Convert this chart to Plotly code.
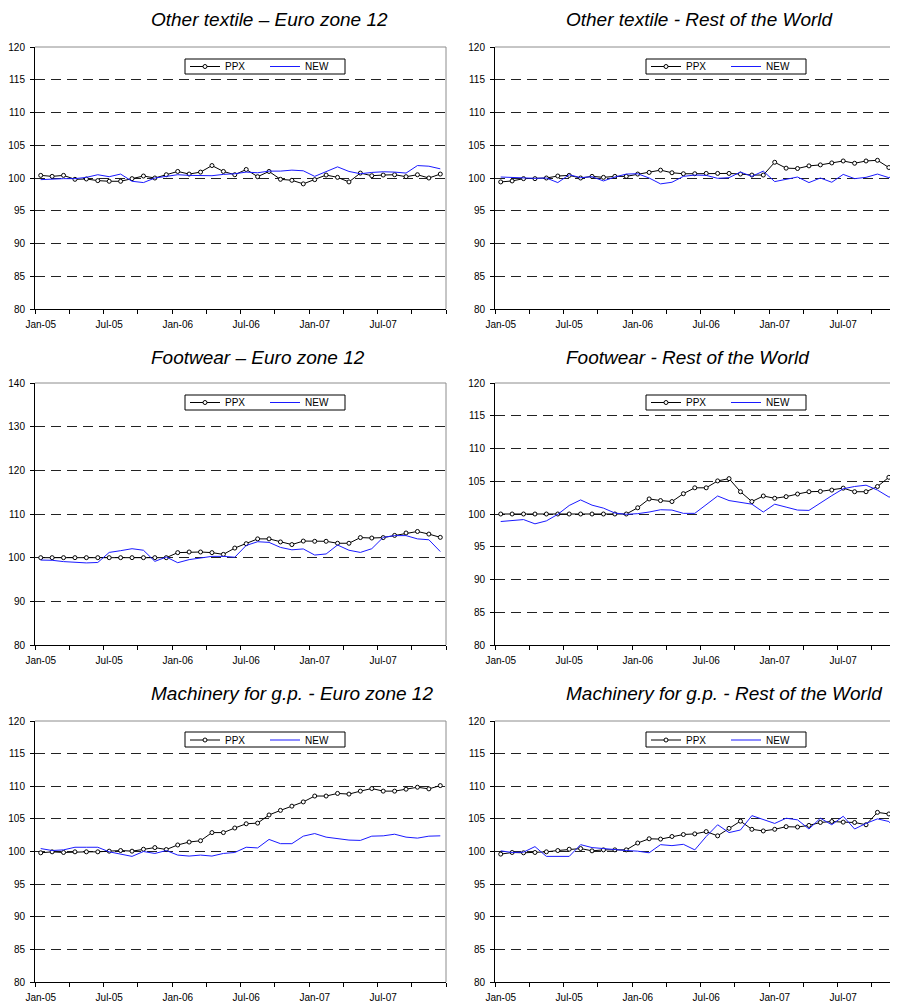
import plotly.graph_objects as go

# ---------------- data ----------------
months = ["Jan-05", "Feb-05", "Mar-05", "Apr-05", "May-05", "Jun-05",
          "Jul-05", "Aug-05", "Sep-05", "Oct-05", "Nov-05", "Dec-05",
          "Jan-06", "Feb-06", "Mar-06", "Apr-06", "May-06", "Jun-06",
          "Jul-06", "Aug-06", "Sep-06", "Oct-06", "Nov-06", "Dec-06",
          "Jan-07", "Feb-07", "Mar-07", "Apr-07", "May-07", "Jun-07",
          "Jul-07", "Aug-07", "Sep-07", "Oct-07", "Nov-07", "Dec-07"]
tick_labels = ["Jan-05", "Jul-05", "Jan-06", "Jul-06", "Jan-07", "Jul-07"]
series_names = ["PPX", "NEW"]

titles = ["Other textile \u2013 Euro zone 12", "Other textile - Rest of the World",
          "Footwear \u2013 Euro zone 12", "Footwear - Rest of the World",
          "Machinery for g.p. - Euro zone 12", "Machinery for g.p. - Rest of the World"]

textile_ez_ppx = [100.4, 100.25, 100.4, 99.8, 99.85, 99.6, 99.5, 99.5, 99.9, 100.3, 100.0, 100.5,
                  101.0, 100.6, 100.9, 101.9, 101.0, 100.5, 101.3, 100.2, 101.0, 99.8, 99.65, 99.1,
                  99.75, 100.45, 100.1, 99.4, 100.75, 100.35, 100.45, 100.5, 100.2, 100.5, 100.0, 100.6]
textile_ez_new = [99.75, 99.85, 99.9, 99.9, 100.1, 100.5, 100.2, 100.6, 99.5, 99.3, 100.0, 100.25,
                  100.5, 100.4, 100.35, 100.35, 100.55, 100.65, 100.9, 100.8, 101.05, 101.05, 101.2, 101.1,
                  100.25, 101.0, 101.7, 101.0, 100.65, 100.85, 100.95, 100.9, 100.75, 101.9, 101.8, 101.4]

textile_row_ppx = [99.4, 99.55, 99.9, 99.9, 100.0, 100.3, 100.4, 100.0, 100.25, 100.1, 100.25, 100.25,
                   100.6, 100.85, 101.2, 100.8, 100.65, 100.65, 100.7, 100.7, 100.7, 100.6, 100.45, 100.45,
                   102.4, 101.5, 101.45, 101.85, 102.0, 102.3, 102.6, 102.25, 102.6, 102.7, 101.6, 101.35]
textile_row_new = [100.15, 100.05, 100.0, 99.95, 100.0, 99.3, 100.5, 100.05, 100.2, 99.55, 100.15, 100.6,
                   100.65, 100.0, 99.1, 99.35, 100.25, 100.45, 100.4, 99.95, 100.05, 100.9, 100.25, 101.05,
                   99.45, 99.8, 100.15, 99.3, 100.0, 99.35, 100.55, 99.9, 100.1, 100.6, 100.05, 100.85]

footwear_ez_ppx = [100.0, 100.0, 100.0, 100.0, 100.0, 100.0, 100.0, 100.0, 100.0, 100.0, 100.0, 100.0,
                   101.15, 101.3, 101.3, 101.15, 100.75, 102.2, 103.2, 104.3, 104.3, 103.6, 103.0, 103.8,
                   103.75, 103.75, 103.3, 103.3, 104.6, 104.5, 104.6, 105.1, 105.65, 106.0, 105.4, 104.65]
footwear_ez_new = [99.45, 99.4, 99.1, 98.9, 98.8, 98.9, 101.2, 101.6, 102.05, 101.7, 99.15, 100.15,
                   98.85, 99.55, 99.85, 100.3, 100.3, 100.1, 102.8, 103.65, 103.5, 102.35, 101.8, 102.0,
                   100.6, 100.85, 102.9, 101.7, 101.2, 102.05, 104.65, 105.05, 105.05, 104.3, 104.1, 101.4]

footwear_row_ppx = [100.0, 100.0, 100.0, 100.0, 100.0, 100.0, 100.0, 100.0, 100.0, 100.0, 100.0, 100.0,
                    100.95, 102.3, 102.05, 101.9, 103.1, 104.0, 104.0, 105.05, 105.4, 103.4, 101.9, 102.75,
                    102.4, 102.65, 103.05, 103.4, 103.45, 103.65, 103.95, 103.4, 103.4, 104.2, 105.6, 105.55]
footwear_row_new = [98.85, 99.0, 99.15, 98.5, 98.95, 99.95, 101.3, 102.15, 101.35, 100.9, 100.15, 99.95,
                    100.05, 100.3, 100.65, 100.6, 100.1, 100.1, 101.4, 102.75, 102.05, 101.75, 101.5, 100.3,
                    101.5, 101.05, 100.6, 100.55, 101.7, 102.8, 103.85, 104.2, 104.4, 103.65, 102.6, 102.6]

machinery_ez_ppx = [99.8, 99.95, 99.85, 99.95, 99.95, 99.95, 100.05, 100.15, 100.05, 100.35, 100.6, 100.3,
                    101.0, 101.45, 101.65, 102.9, 102.9, 103.6, 104.25, 104.35, 105.6, 106.3, 106.95, 107.6,
                    108.5, 108.5, 108.9, 108.8, 109.25, 109.65, 109.25, 109.25, 109.55, 109.85, 109.6, 110.1]
machinery_ez_new = [100.45, 100.15, 100.25, 100.65, 100.65, 100.65, 99.95, 99.6, 99.25, 100.0, 99.7, 100.15,
                    99.45, 99.3, 99.45, 99.3, 99.7, 99.85, 100.65, 100.55, 101.85, 101.2, 101.2, 102.35,
                    102.75, 102.2, 102.0, 101.75, 101.7, 102.35, 102.4, 102.65, 102.2, 102.05, 102.35, 102.4]

machinery_row_ppx = [99.6, 99.85, 99.8, 99.85, 99.95, 100.15, 100.35, 100.45, 100.1, 100.25, 100.25, 100.25,
                     101.3, 101.95, 101.9, 102.3, 102.6, 102.7, 103.05, 102.4, 103.55, 104.65, 103.4, 103.15,
                     103.4, 103.8, 103.75, 104.0, 104.45, 104.6, 104.5, 104.45, 104.1, 106.0, 105.75, 105.95]
machinery_row_new = [100.1, 99.85, 99.9, 100.75, 99.25, 99.25, 99.25, 101.05, 100.6, 100.45, 100.25, 100.15,
                     100.05, 99.8, 101.05, 100.9, 101.1, 100.25, 102.3, 104.1, 102.9, 103.3, 105.5, 104.9,
                     104.3, 105.1, 104.85, 103.45, 105.1, 104.1, 105.4, 103.45, 104.3, 105.0, 104.6, 102.5]

panel_series = [(textile_ez_ppx, textile_ez_new), (textile_row_ppx, textile_row_new),
                (footwear_ez_ppx, footwear_ez_new), (footwear_row_ppx, footwear_row_new),
                (machinery_ez_ppx, machinery_ez_new), (machinery_row_ppx, machinery_row_new)]
y_ranges = [(80, 120, 5), (80, 120, 5), (80, 140, 10), (80, 120, 5), (80, 120, 5), (80, 120, 5)]

# ---------------- layout geometry (page pixels; the page body adds an 8px margin) ----------------
OFF = 8
PAGE_W, PAGE_H = 898, 1008
W, H = PAGE_W - OFF, PAGE_H - OFF
FONT = "Liberation Sans, Arial, sans-serif"
BLUE = "#1a1aff"
col_x = [(35, 446), (495, 906)]          # plot-area left/right (col 2 runs past the page edge)
row_y = [(47, 309), (383, 645), (721, 982)]
title_x = [149, 564]
title_y = [19, 357, 693]
legend_box_x = [(185, 345), (646, 806)]
legend_box_y = [(59, 74), (395, 410), (732, 747)]
legend_mid_y = [66.5, 402.5, 740.0]


def fx(px):
    return (px - OFF) / W


def fy(py):
    return 1 - (py - OFF) / H


x_idx = list(range(len(months)))
fig = go.Figure()
layout = dict(
    width=W, height=H, margin=dict(l=0, r=0, t=0, b=0, autoexpand=False),
    paper_bgcolor="white", plot_bgcolor="white", showlegend=True,
    font=dict(family=FONT, size=10, color="black"),
    annotations=[], shapes=[],
)

for i, (ppx, new) in enumerate(panel_series):
    r, c = divmod(i, 2)
    n = i + 1
    xa = "x" if n == 1 else f"x{n}"
    ya = "y" if n == 1 else f"y{n}"
    lg = "legend" if n == 1 else f"legend{n}"
    left, right = col_x[c]
    top, bottom = row_y[r]
    px_per_cat = (right - left) / len(months)
    vis_right = min(right, PAGE_W)
    xmax = -0.5 + (vis_right - left) / px_per_cat

    fig.add_trace(go.Scatter(
        x=x_idx, y=ppx, name=series_names[0], mode="lines+markers",
        line=dict(color="black", width=1),
        marker=dict(symbol="circle", size=4, color="white", line=dict(color="black", width=1)),
        xaxis=xa, yaxis=ya, legend=lg))
    fig.add_trace(go.Scatter(
        x=x_idx, y=new, name=series_names[1], mode="lines",
        line=dict(color=BLUE, width=1),
        xaxis=xa, yaxis=ya, legend=lg))

    y0, y1, dt = y_ranges[i]
    layout[f"xaxis{'' if n == 1 else n}"] = dict(
        domain=[fx(left), fx(vis_right)], anchor=ya, range=[-0.5, xmax], automargin=False,
        tickmode="array", tickvals=[months.index(t) for t in tick_labels], ticktext=tick_labels,
        ticks="", showline=True, linecolor="black", linewidth=1, showgrid=False, zeroline=False,
        tickfont=dict(family=FONT, size=10, color="black"), ticklabelstandoff=6,
        minor=dict(tickmode="array", tickvals=[k - 0.5 for k in range(0, len(months) + 1, 3)],
                   ticks="outside", ticklen=4, tickcolor="black", tickwidth=1, showgrid=False),
    )
    layout[f"yaxis{'' if n == 1 else n}"] = dict(
        domain=[fy(bottom), fy(top)], anchor=xa, range=[y0, y1], automargin=False,
        tick0=y0, dtick=dt, ticks="outside", ticklen=4, tickcolor="black", tickwidth=1,
        showline=True, linecolor="black", linewidth=1, zeroline=False,
        showgrid=True, gridcolor="#222222", gridwidth=1, griddash="10px,6px",
        tickfont=dict(family=FONT, size=10, color="black"), ticklabelstandoff=3,
    )
    # light plot-area border (top / right)
    layout["shapes"].append(dict(type="line", xref=f"{xa} domain", yref=f"{ya} domain",
                                 x0=0, x1=1, y0=1, y1=1, line=dict(color="#8c8c8c", width=1)))
    if c == 0:
        layout["shapes"].append(dict(type="line", xref=f"{xa} domain", yref=f"{ya} domain",
                                     x0=1, x1=1, y0=0, y1=1, line=dict(color="#8c8c8c", width=1)))
    # legend frame
    bx0, bx1 = legend_box_x[c]
    by0, by1 = legend_box_y[r]
    layout["shapes"].append(dict(type="rect", xref="paper", yref="paper",
                                 x0=fx(bx0), x1=fx(bx1), y0=fy(by1), y1=fy(by0),
                                 fillcolor="white", line=dict(color="black", width=1), layer="above"))
    layout[lg] = dict(
        x=fx(bx0), y=fy(legend_mid_y[r]), xref="paper", yref="paper",
        xanchor="left", yanchor="middle", orientation="h", traceorder="normal",
        borderwidth=0, bgcolor="rgba(0,0,0,0)",
        font=dict(family=FONT, size=10, color="black"),
        itemwidth=30, entrywidth=35, entrywidthmode="pixels",
    )
    layout["annotations"].append(dict(
        text=titles[i], xref="paper", yref="paper", x=fx(title_x[c]), y=fy(title_y[r]),
        xanchor="left", yanchor="middle", showarrow=False,
        font=dict(family=FONT, size=19, color="black", style="italic")))

fig.update_layout(**layout)
fig.write_html("out.html")
